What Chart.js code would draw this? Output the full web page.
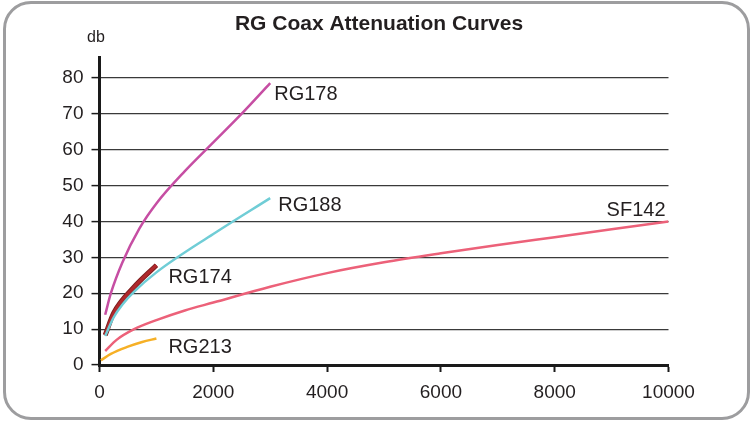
<!DOCTYPE html>
<html>
<head>
<meta charset="utf-8">
<script src="https://cdn.jsdelivr.net/npm/chart.js@4.4.0/dist/chart.umd.min.js"></script>
<style>
  html, body { margin: 0; padding: 0; background: #fff; }
  #wrap { position: relative; width: 751px; height: 421px; }
  #frame {
    position: absolute; left: 3px; top: 1px; width: 741px; height: 413px;
    border: 3px solid #9d9d9f; border-radius: 28px; pointer-events: none;
  }
</style>
</head>
<body>
<div id="wrap">
  <canvas id="myChart" width="751" height="421"></canvas>
  <div id="frame"></div>
</div>
<script>
// datos (MHz -> dB)
const titulo = "RG Coax Attenuation Curves";
const unidad = "db";

const xTicks = [0, 2000, 4000, 6000, 8000, 10000];
const yTicks = [0, 10, 20, 30, 40, 50, 60, 70, 80];

const freqRG178 = [100, 200, 400, 700, 1000, 1500, 2000, 2500, 3000];
const dbRG178 = [14, 20, 28.5, 38, 45, 54, 62, 70, 78.5];

const freqRG188 = [100, 250, 400, 600, 1000, 2000, 3000];
const dbRG188 = [8.1, 13.3, 16.8, 20.3, 25.8, 36.5, 46.5];

const freqRG174 = [100, 250, 600, 1000];
const dbRG174 = [8.3, 14.5, 21.6, 27.8];

const freqRG213 = [25, 200, 500, 750, 1000];
const dbRG213 = [1.3, 3.1, 5.1, 6.4, 7.4];

const freqSF142 = [100, 300, 600, 1000, 1500, 2000, 3000, 4000, 5000, 6000, 7000, 8000, 9000, 10000];
const dbSF142 = [3.9, 7, 9.9, 12.5, 15.2, 17.4, 21.8, 25.6, 28.6, 31.1, 33.4, 35.6, 37.8, 40];

const fuente = '"Liberation Sans", Arial, sans-serif';
const colorTexto = "#231f20";

const puntos = (xs, ys) => xs.map((x, i) => ({ x: x, y: ys[i] }));

const linea = (label, xs, ys, color, ancho, orden) => ({
  label: label,
  data: puntos(xs, ys),
  borderColor: color,
  borderWidth: ancho,
  pointRadius: 0,
  fill: false,
  cubicInterpolationMode: "monotone",
  borderCapStyle: "butt",
  order: orden,
});

// etiquetas de cada curva, pegadas al ultimo punto
const etiquetas = [
  { texto: "RG178", xs: freqRG178, ys: dbRG178, dx: 4, dy: 17, align: "left" },
  { texto: "RG188", xs: freqRG188, ys: dbRG188, dx: 8, dy: 12.5, align: "left" },
  { texto: "RG174", xs: freqRG174, ys: dbRG174, dx: 12, dy: 17.4, align: "left" },
  { texto: "RG213", xs: freqRG213, ys: dbRG213, dx: 12, dy: 14.5, align: "left" },
  { texto: "SF142", xs: freqSF142, ys: dbSF142, dx: -3, dy: -5.5, align: "right" },
];

const textosPlugin = {
  id: "textos",
  afterDraw(chart) {
    const ctx = chart.ctx;
    const sx = chart.scales.x;
    const sy = chart.scales.y;
    ctx.save();
    ctx.fillStyle = colorTexto;
    ctx.textBaseline = "alphabetic";

    ctx.font = "bold 21px " + fuente;
    ctx.textAlign = "center";
    ctx.fillText(titulo, 379, 30);

    ctx.font = "16px " + fuente;
    ctx.fillText(unidad, 96, 42);

    ctx.font = "20px " + fuente;
    etiquetas.forEach((e) => {
      const n = e.xs.length - 1;
      const px = sx.getPixelForValue(e.xs[n]);
      const py = sy.getPixelForValue(e.ys[n]);
      ctx.textAlign = e.align;
      ctx.fillText(e.texto, px + e.dx, py + e.dy);
    });
    ctx.restore();
  },
};

const ctx = document.getElementById("myChart").getContext("2d");

new Chart(ctx, {
  type: "line",
  data: {
    datasets: [
      linea("RG188", freqRG188, dbRG188, "#70cdd6", 2.5, 0),
      linea("RG174", freqRG174, dbRG174, "#b0282c", 3.2, 1),
      linea("RG174 borde", freqRG174, dbRG174, "#7d1f1f", 5, 2),
      linea("RG178", freqRG178, dbRG178, "#c64ea3", 2.5, 3),
      linea("SF142", freqSF142, dbSF142, "#ec6179", 2.5, 3),
      linea("RG213", freqRG213, dbRG213, "#f6b026", 2.5, 3),
    ],
  },
  options: {
    responsive: false,
    animation: false,
    layout: { padding: { top: 57, right: 82.5, bottom: 0, left: 0 } },
    plugins: {
      legend: { display: false },
      tooltip: { enabled: false },
    },
    scales: {
      x: {
        type: "linear",
        min: 0,
        max: 10000,
        afterBuildTicks: (axis) => {
          axis.ticks = xTicks.map((v) => ({ value: v }));
        },
        afterFit: (scale) => {
          scale.height = 56;
        },
        grid: {
          drawOnChartArea: false,
          drawTicks: true,
          tickLength: 7,
          tickColor: "#1a1a1a",
          tickWidth: 2,
        },
        border: { color: "#1a1a1a", width: 3 },
        ticks: {
          color: colorTexto,
          font: { family: fuente, size: 19 },
          padding: 9,
          maxRotation: 0,
          autoSkip: false,
          callback: (v) => String(v),
        },
      },
      y: {
        type: "linear",
        min: 0,
        max: 85.8,
        afterBuildTicks: (axis) => {
          axis.ticks = yTicks.map((v) => ({ value: v }));
        },
        afterFit: (scale) => {
          scale.width = 99.5;
        },
        grid: {
          color: "#3a3a3a",
          lineWidth: 1.2,
          tickLength: 8,
          tickColor: "#1a1a1a",
          tickWidth: 1.5,
        },
        border: { color: "#1a1a1a", width: 3 },
        ticks: {
          color: colorTexto,
          font: { family: fuente, size: 19 },
          padding: 8,
          callback: (v) => String(v),
        },
      },
    },
  },
  plugins: [textosPlugin],
});
</script>
</body>
</html>
